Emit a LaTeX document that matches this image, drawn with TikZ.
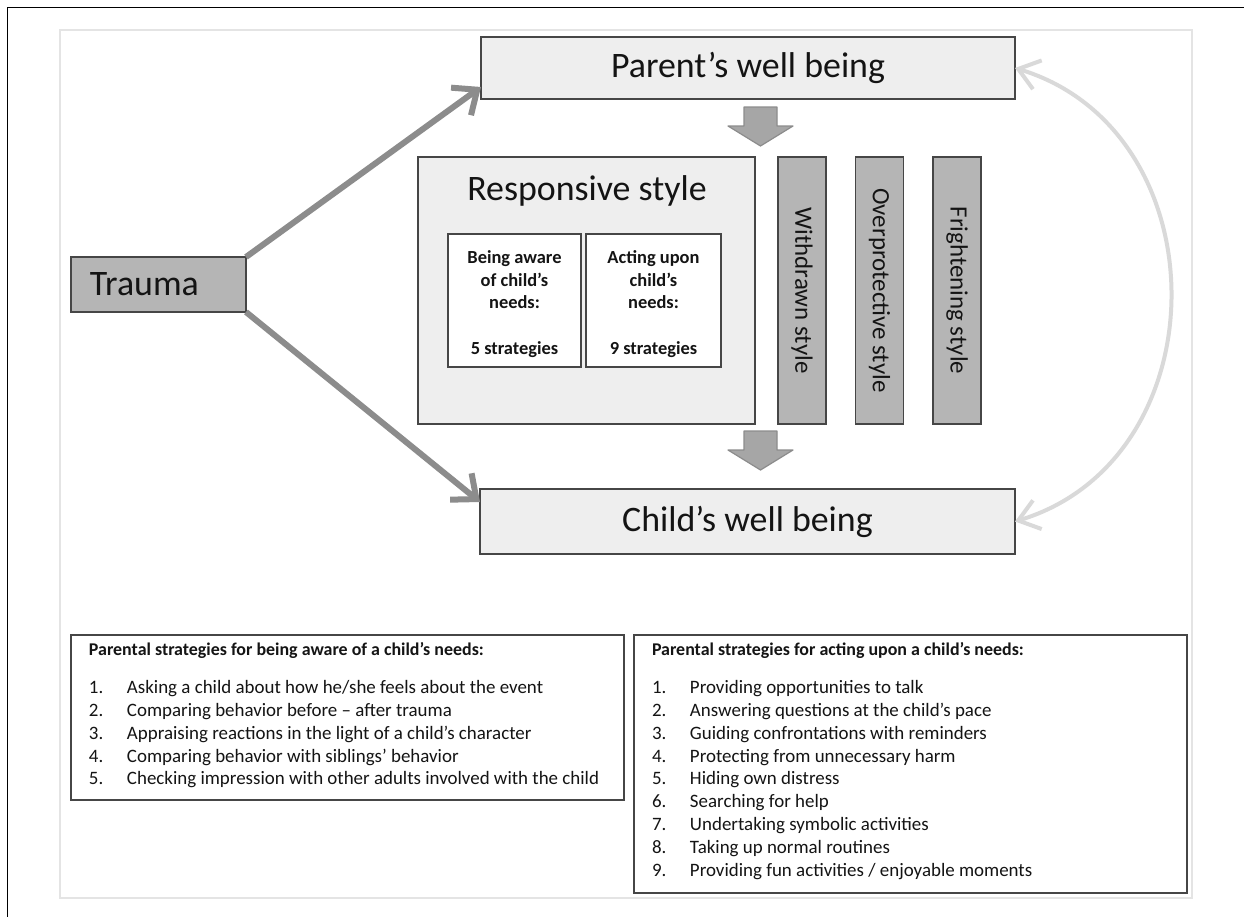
\documentclass[tikz,border=0pt]{standalone}
\usepackage{fontspec}
\setmainfont{Carlito}
\usetikzlibrary{arrows.meta,calc}
\definecolor{lightfill}{RGB}{238,238,238}
\definecolor{darkfill}{RGB}{181,181,181}
\definecolor{edge}{RGB}{70,70,70}
\definecolor{arrowgrey}{RGB}{140,140,140}
\definecolor{blockfill}{RGB}{166,166,166}
\definecolor{curvegrey}{RGB}{217,217,217}
\definecolor{framegrey}{RGB}{228,228,228}
\definecolor{txt}{RGB}{20,20,20}
\begin{document}
\begin{tikzpicture}[x=1bp,y=-1bp,
  every node/.style={text=txt, inner sep=0pt, outer sep=0pt},
  bigbox/.style={draw=edge, line width=1.8bp, fill=lightfill, font=\fontsize{36}{43}\selectfont},
  stylebar/.style={draw=edge, line width=1.8bp, fill=darkfill, rotate=-90, minimum width=267bp, minimum height=48bp, font=\fontsize{25}{30}\selectfont},
  smallbox/.style={draw=edge, line width=1.5bp, fill=white, minimum height=133bp, align=center, font=\fontsize{18.5}{23}\selectfont\bfseries},
  listbox/.style={draw=edge, line width=2bp, fill=white},
  listtext/.style={anchor=base west, font=\fontsize{19}{23}\selectfont},
  linkarrow/.style={draw=arrowgrey, line width=6bp, -{Straight Barb[length=20bp,width=34bp]}},
  looparrow/.style={draw=curvegrey, line width=4bp, {Straight Barb[length=20bp,width=30bp]}-{Straight Barb[length=20bp,width=30bp]}},
  blockdown/.pic={\filldraw[fill=blockfill, draw=arrowgrey, line width=1.2bp, line join=round]
     (-16.5,0) -- (16.5,0) -- (16.5,19) -- (32.5,19) -- (0,39) -- (-32.5,19) -- (-16.5,19) -- cycle;}
]
\useasboundingbox (0,0) rectangle (1244,917);
\fill[white] (0,0) rectangle (1244,917);
% frames
\draw[black, line width=1.5bp] (7.5,917) -- (7.5,7.5) -- (1244,7.5);
\draw[framegrey, line width=1.5bp] (60,30) rectangle (1192,898);

% main nodes
\node[bigbox, minimum width=534bp, minimum height=62bp] (P) at (748,68) {Parent’s well being};
\node[bigbox, minimum width=535bp, minimum height=65bp] (C) at (747.5,521.5) {Child’s well being};
\node[draw=edge, line width=1.8bp, fill=lightfill, minimum width=337bp, minimum height=267bp] (R) at (586.5,290.5) {};
\node[font=\fontsize{36}{43}\selectfont] (Rt) at (587,191) {Responsive style};
\node[smallbox, minimum width=133bp] (B1) at (514.5,300.5) {\rule{0pt}{20bp}Being aware\\of child’s\\needs:\\\mbox{}\\5 strategies};
\node[smallbox, minimum width=135bp] (B2) at (653.5,300.5) {\rule{0pt}{20bp}Acting upon\\child’s\\needs:\\\mbox{}\\9 strategies};
\node[stylebar] (W) at (802,290.5) {Withdrawn style};
\node[stylebar] (O) at (879.5,290.5) {Overprotective style};
\node[stylebar] (F) at (957,290.5) {Frightening style};
\node[draw=edge, line width=1.8bp, fill=darkfill, minimum width=175bp, minimum height=55bp,
      text width=137bp, inner xsep=19bp, align=left, font=\fontsize{36}{43}\selectfont] (T) at (158.5,284.5) {Trauma};

% block arrows
\pic at (760.5,107) {blockdown};
\pic at (760.5,431) {blockdown};

% connectors
\draw[linkarrow] (T.north east) -- ([yshift=12bp]P.south west);
\draw[linkarrow] (T.south east) -- ([yshift=-13bp]C.north west);
\draw[looparrow] (C.east) .. controls +(207,-63) and +(207,63) .. (P.east);

% strategy lists
\node[listbox, minimum width=553bp, minimum height=165bp] (LB) at (347.5,717.5) {};
\node[listbox, minimum width=553bp, minimum height=258bp] (RB) at (910.5,764) {};
\node[listtext] (LBt) at ($(LB.north west)+(18,20)$) {%
\begin{tabular}[t]{@{}p{38bp}@{}l@{}}
\multicolumn{2}{@{}l@{}}{\fontsize{18}{23}\selectfont\bfseries Parental strategies for being aware of a child’s needs:}\\[15.4bp]
1. & Asking a child about how he/she feels about the event\\
2. & Comparing behavior before -- after trauma\\
3. & Appraising reactions in the light of a child’s character\\
4. & Comparing behavior with siblings’ behavior\\
5. & Checking impression with other adults involved with the child
\end{tabular}};
\node[listtext] (RBt) at ($(RB.north west)+(18,20)$) {%
\begin{tabular}[t]{@{}p{38bp}@{}l@{}}
\multicolumn{2}{@{}l@{}}{\fontsize{18}{23}\selectfont\bfseries Parental strategies for acting upon a child’s needs:}\\[15.4bp]
1. & Providing opportunities to talk\\
2. & Answering questions at the child’s pace\\
3. & Guiding confrontations with reminders\\
4. & Protecting from unnecessary harm\\
5. & Hiding own distress\\
6. & Searching for help\\
7. & Undertaking symbolic activities\\
8. & Taking up normal routines\\
9. & Providing fun activities / enjoyable moments
\end{tabular}};
\end{tikzpicture}
\end{document}
